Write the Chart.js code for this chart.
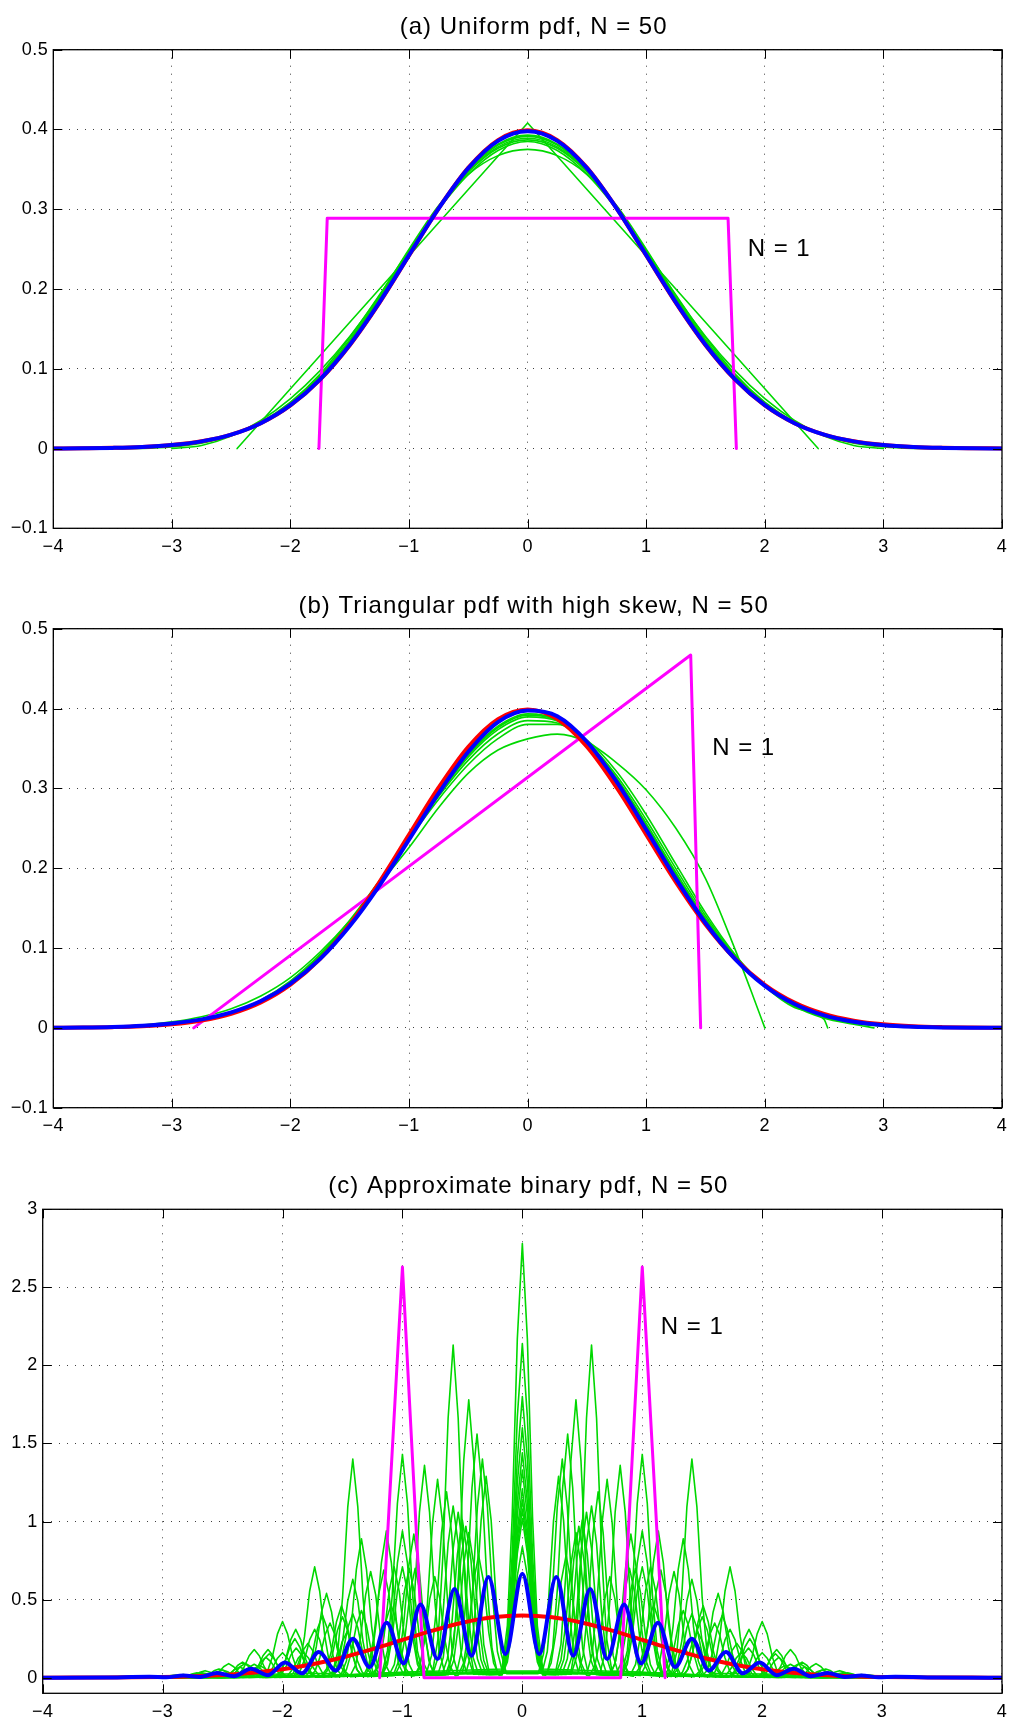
<!DOCTYPE html>
<html>
<head>
<meta charset="utf-8">
<script src="https://cdn.jsdelivr.net/npm/chart.js@4/dist/chart.umd.min.js"></script>
<style>
  html, body { margin: 0; padding: 0; background: #fff; }
  #wrap { position: relative; width: 1015px; height: 1717px; overflow: hidden; }
  canvas { position: absolute; left: 0; }
</style>
</head>
<body>
<div id="wrap">
  <canvas id="panelA" width="1015" height="580" style="top:0px"></canvas>
  <canvas id="panelB" width="1015" height="580" style="top:580px"></canvas>
  <canvas id="panelC" width="1015" height="557" style="top:1160px"></canvas>
</div>
<script>
// ---------------------------------------------------------------
// Common sample grid and the unit normal density
// ---------------------------------------------------------------
const gridX = [-4,-3.75,-3.5,-3.25,-3,-2.75,-2.5,-2.25,-2,-1.75,-1.5,-1.25,-1,-0.75,-0.5,-0.25,0,
               0.25,0.5,0.75,1,1.25,1.5,1.75,2,2.25,2.5,2.75,3,3.25,3.5,3.75,4];
const normalY = [0.0001,0.0004,0.0009,0.0020,0.0044,0.0091,0.0175,0.0317,0.0540,0.0863,0.1295,0.1826,
                 0.2420,0.3011,0.3521,0.3867,0.3989,0.3867,0.3521,0.3011,0.2420,0.1826,0.1295,0.0863,
                 0.0540,0.0317,0.0175,0.0091,0.0044,0.0020,0.0009,0.0004,0.0001];

// Axis ticks
const xTicks = [-4,-3,-2,-1,0,1,2,3,4];
const xTickLabels = ['\u22124','\u22123','\u22122','\u22121','0','1','2','3','4'];
const yTicksAB = [-0.1,0,0.1,0.2,0.3,0.4,0.5];
const yTickLabelsAB = ['\u22120.1','0','0.1','0.2','0.3','0.4','0.5'];
const yTicksC = [0,0.5,1,1.5,2,2.5,3];
const yTickLabelsC = ['0','0.5','1','1.5','2','2.5','3'];

// ---------------------------------------------------------------
// (a) Sums of uniform variables
// ---------------------------------------------------------------
const uniN1X = [-1.76,-1.69,1.69,1.76];
const uniN1Y = [0,0.2887,0.2887,0];
const uniN2X = [-2.45,0,2.45];
const uniN2Y = [0,0.408,0];
const uniN3X = [-3,-2.75,-2.5,-2.25,-2,-1.75,-1.5,-1.25,-1,-0.75,-0.5,-0.25,0,
                0.25,0.5,0.75,1,1.25,1.5,1.75,2,2.25,2.5,2.75,3];
const uniN3Y = [0,0.0039,0.0156,0.0352,0.0625,0.0977,0.1406,0.1914,0.2500,0.3047,0.3438,0.3672,0.3750,
                0.3672,0.3438,0.3047,0.2500,0.1914,0.1406,0.0977,0.0625,0.0352,0.0156,0.0039,0];
const uniN4X = [-3.46,-3.25,-3,-2.75,-2.5,-2.25,-2,-1.75,-1.5,-1.25,-1,-0.75,-0.5,-0.25,0,
                0.25,0.5,0.75,1,1.25,1.5,1.75,2,2.25,2.5,2.75,3,3.25,3.46];
const uniN4Y = [0,0.0002,0.0019,0.0067,0.0166,0.0331,0.0581,0.0933,0.1394,0.1924,0.2481,0.3001,0.3437,0.3737,0.3849,
                0.3737,0.3437,0.3001,0.2481,0.1924,0.1394,0.0933,0.0581,0.0331,0.0166,0.0067,0.0019,0.0002,0];
const uniN5Y = [0,0,0.0002,0.0010,0.0031,0.0078,0.0167,0.0323,0.0567,0.0915,0.1365,0.1898,0.2468,0.3013,0.3466,0.3765,0.3870,
                0.3765,0.3466,0.3013,0.2468,0.1898,0.1365,0.0915,0.0567,0.0323,0.0167,0.0078,0.0031,0.0010,0.0002,0,0];
const uniN6Y = [0,0.0001,0.0003,0.0011,0.0033,0.0080,0.0168,0.0322,0.0563,0.0906,0.1354,0.1886,0.2460,0.3012,0.3475,0.3782,0.3889,
                0.3782,0.3475,0.3012,0.2460,0.1886,0.1354,0.0906,0.0563,0.0322,0.0168,0.0080,0.0033,0.0011,0.0003,0.0001,0];
const uniN8Y = [0,0.0001,0.0004,0.0014,0.0036,0.0083,0.0170,0.0320,0.0557,0.0895,0.1339,0.1871,0.2450,0.3012,0.3487,0.3804,0.3914,
                0.3804,0.3487,0.3012,0.2450,0.1871,0.1339,0.0895,0.0557,0.0320,0.0170,0.0083,0.0036,0.0014,0.0004,0.0001,0];
const uniN10Y = [0,0.0002,0.0005,0.0015,0.0037,0.0084,0.0171,0.0320,0.0554,0.0889,0.1330,0.1862,0.2444,0.3012,0.3494,0.3816,0.3929,
                 0.3816,0.3494,0.3012,0.2444,0.1862,0.1330,0.0889,0.0554,0.0320,0.0171,0.0084,0.0037,0.0015,0.0005,0.0002,0];
const uniN50Y = [0.0001,0.0003,0.0008,0.0019,0.0043,0.0090,0.0174,0.0318,0.0543,0.0868,0.1302,0.1833,0.2425,0.3011,0.3515,0.3857,0.3977,
                 0.3857,0.3515,0.3011,0.2425,0.1833,0.1302,0.0868,0.0543,0.0318,0.0174,0.0090,0.0043,0.0019,0.0008,0.0003,0.0001];

// ---------------------------------------------------------------
// (b) Sums of a strongly skewed triangular variable
// ---------------------------------------------------------------
const triN1X = [-2.816,1.375,1.459];
const triN1Y = [0,0.467,0];
const triN2X = [-4,-3.75,-3.5,-3.25,-3,-2.75,-2.5,-2.25,-2,-1.75,-1.5,-1.25,-1,-0.75,-0.5,-0.25,0,
                0.25,0.5,0.75,1,1.25,1.5,1.75,1.9,2.0];
const triN2Y = [0,0.0005,0.0015,0.0035,0.0075,0.014,0.024,0.040,0.063,0.095,0.134,0.180,0.226,0.276,0.319,0.348,0.362,
                0.368,0.358,0.332,0.298,0.250,0.187,0.098,0.040,0];
const triN3X = [-4,-3.75,-3.5,-3.25,-3,-2.75,-2.5,-2.25,-2,-1.75,-1.5,-1.25,-1,-0.75,-0.5,-0.25,0,
                0.25,0.5,0.75,1,1.25,1.5,1.75,2,2.25,2.5,2.53];
const triN3Y = [0.0004,0.0007,0.0013,0.0026,0.0052,0.0102,0.0193,0.0348,0.0588,0.0923,0.1349,0.1844,0.2366,0.2865,0.3299,0.3623,0.3801,
                0.3801,0.3603,0.3211,0.2670,0.2050,0.1441,0.0917,0.0520,0.0256,0.0104,0];
const triN4X = [-4,-3.75,-3.5,-3.25,-3,-2.75,-2.5,-2.25,-2,-1.75,-1.5,-1.25,-1,-0.75,-0.5,-0.25,0,
                0.25,0.5,0.75,1,1.25,1.5,1.75,2,2.25,2.5,2.75,2.92];
const triN4Y = [0.0003,0.0006,0.0012,0.0025,0.0050,0.0099,0.0189,0.0340,0.0576,0.0908,0.1336,0.1840,0.2380,0.2902,0.3354,0.3684,0.3848,
                0.3818,0.3582,0.3161,0.2607,0.1994,0.1404,0.0903,0.0525,0.0271,0.0122,0.0046,0];
const triN6Y = [0.0003,0.0006,0.0012,0.0025,0.0051,0.0100,0.0189,0.0338,0.0568,0.0893,0.1317,0.1823,0.2376,0.2919,0.3393,0.3735,0.3895,
                0.3844,0.3579,0.3130,0.2562,0.1949,0.1373,0.0890,0.0526,0.0281,0.0135,0.0057,0.0020,0.0006,0.0001,0,0];
const triN8Y = [0.0003,0.0006,0.0012,0.0025,0.0051,0.0101,0.0189,0.0336,0.0563,0.0886,0.1308,0.1817,0.2376,0.2930,0.3414,0.3762,0.3918,
                0.3856,0.3575,0.3113,0.2537,0.1926,0.1357,0.0883,0.0527,0.0287,0.0142,0.0063,0.0025,0.0008,0.0002,0,0];
const triN10Y = [0.0002,0.0005,0.0012,0.0025,0.0051,0.0101,0.0188,0.0334,0.0560,0.0881,0.1303,0.1813,0.2377,0.2937,0.3428,0.3778,0.3933,
                 0.3863,0.3572,0.3101,0.2521,0.1911,0.1347,0.0879,0.0528,0.0291,0.0146,0.0067,0.0027,0.0010,0.0003,0.0001,0];
const triN50Y = [0.0002,0.0005,0.0012,0.0027,0.0055,0.0106,0.0194,0.0336,0.0554,0.0864,0.1276,0.1783,0.2357,0.2939,0.3458,0.3830,0.3975,
                 0.3904,0.3584,0.3083,0.2483,0.1869,0.1314,0.0862,0.0526,0.0298,0.0156,0.0076,0.0034,0.0014,0.0005,0.0001,0];

// ---------------------------------------------------------------
// (c) Sums of an approximately binary variable: peak centres and heights
// ---------------------------------------------------------------
const binN1X = [-1.19,-1.0,-0.82,0.82,1.0,1.19];
const binN1Y = [0,2.63,0,0,2.63,0];
const binN2X = [-1.414,0,1.414];
const binN2Y = [1.40,2.78,1.40];
const binN3X = [-1.732,-0.577,0.577,1.732];
const binN3Y = [0.71,2.13,2.13,0.71];
const binN4X = [-2,-1,0,1,2];
const binN4Y = [0.36,1.43,2.14,1.43,0.36];
const binN5X = [-2.236,-1.342,-0.447,0.447,1.342,2.236];
const binN5Y = [0.18,0.89,1.78,1.78,0.89,0.18];
const binN6X = [-2.449,-1.633,-0.816,0,0.816,1.633,2.449];
const binN6Y = [0.09,0.54,1.36,1.80,1.36,0.54,0.09];
const binN7X = [-2.646,-1.890,-1.134,-0.378,0.378,1.134,1.890,2.646];
const binN7Y = [0.045,0.31,0.94,1.56,1.56,0.94,0.31,0.045];
const binN8X = [-2.828,-2.121,-1.414,-0.707,0,0.707,1.414,2.121,2.828];
const binN8Y = [0.02,0.18,0.63,1.27,1.60,1.27,0.63,0.18,0.02];
const binN9X = [-3,-2.333,-1.667,-1,-0.333,0.333,1,1.667,2.333,3];
const binN9Y = [0.01,0.10,0.40,0.94,1.40,1.40,0.94,0.40,0.10,0.01];
const binN10X = [-3.162,-2.530,-1.897,-1.265,-0.632,0,0.632,1.265,1.897,2.530,3.162];
const binN10Y = [0.006,0.056,0.25,0.68,1.19,1.44,1.19,0.68,0.25,0.056,0.006];
const binN11X = [-3.317,-2.714,-2.111,-1.508,-0.905,-0.302,0.302,0.905,1.508,2.111,2.714,3.317];
const binN11Y = [0.003,0.031,0.153,0.46,0.92,1.29,1.29,0.92,0.46,0.153,0.031,0.003];
const binN12X = [-3.464,-2.887,-2.309,-1.732,-1.155,-0.577,0,0.577,1.155,1.732,2.309,2.887,3.464];
const binN12Y = [0.0014,0.017,0.092,0.31,0.69,1.10,1.33,1.10,0.69,0.31,0.092,0.017,0.0014];
const binN14X = [-3.207,-2.673,-2.138,-1.604,-1.069,-0.535,0,0.535,1.069,1.604,2.138,2.673,3.207];
const binN14Y = [0.005,0.032,0.13,0.35,0.71,1.06,1.21,1.06,0.71,0.35,0.13,0.032,0.005];
const binN16X = [-3.0,-2.5,-2.0,-1.5,-1.0,-0.5,0,0.5,1.0,1.5,2.0,2.5,3.0];
const binN16Y = [0.011,0.049,0.16,0.39,0.71,1.01,1.14,1.01,0.71,0.39,0.16,0.049,0.011];
const binN18X = [-2.828,-2.357,-1.886,-1.414,-0.943,-0.471,0,0.471,0.943,1.414,1.886,2.357,2.828];
const binN18Y = [0.018,0.068,0.19,0.41,0.70,0.97,1.08,0.97,0.70,0.41,0.19,0.068,0.018];
const binN20X = [-2.683,-2.236,-1.789,-1.342,-0.894,-0.447,0,0.447,0.894,1.342,1.789,2.236,2.683];
const binN20Y = [0.027,0.086,0.22,0.43,0.70,0.93,1.02,0.93,0.70,0.43,0.22,0.086,0.027];
const binN30X = [-2.921,-2.556,-2.191,-1.826,-1.461,-1.095,-0.730,-0.365,0,0.365,0.730,1.095,1.461,1.826,2.191,2.556,2.921];
const binN30Y = [0.011,0.032,0.077,0.162,0.295,0.467,0.647,0.785,0.838,0.785,0.647,0.467,0.295,0.162,0.077,0.032,0.011];
const binN50X = [-4,-3.5,-3.111,-2.970,-2.828,-2.687,-2.546,-2.404,-2.263,-2.121,-1.980,-1.838,-1.697,-1.556,-1.414,
                 -1.273,-1.131,-0.990,-0.849,-0.707,-0.566,-0.424,-0.283,-0.141,0,0.141,0.283,0.424,0.566,0.707,0.849,
                 0.990,1.131,1.273,1.414,1.556,1.697,1.838,1.980,2.121,2.263,2.404,2.546,2.687,2.828,2.970,3.111,3.5,4];
const binN50Y = [0,0.001,0.006,0.003,0.014,0.005,0.030,0.009,0.057,0.016,0.098,0.028,0.164,0.046,0.250,
                 0.068,0.352,0.092,0.468,0.120,0.568,0.140,0.645,0.150,0.665,0.150,0.645,0.140,0.568,0.120,0.468,
                 0.092,0.352,0.068,0.250,0.046,0.164,0.028,0.098,0.016,0.057,0.009,0.030,0.005,0.014,0.003,0.006,0.001,0];

// ---------------------------------------------------------------
// Helpers
// ---------------------------------------------------------------
const GREEN = '#00d800', MAGENTA = '#ff00ff', RED = '#ff0000', BLUE = '#0000ff';
const FONT = '"Liberation Sans", Arial, Helvetica, sans-serif';

const toPoints = (xs, ys) => xs.map((x, i) => ({ x: x, y: ys[i] }));

// Narrow peak outline used for each lattice point of the binary sums
const peakOutline = [[-0.17,0.02],[-0.125,0.12],[-0.085,0.37],[-0.042,0.78],[0,1],
                     [0.042,0.78],[0.085,0.37],[0.125,0.12],[0.17,0.02]];
function peakTrace(centres, heights) {
  const out = [{ x: -4, y: 0 }];
  centres.forEach((c, i) => {
    peakOutline.forEach(([dx, f]) => out.push({ x: c + dx, y: heights[i] * f }));
  });
  out.push({ x: 4, y: 0 });
  return out;
}

function series(data, color, width, smooth, order) {
  return {
    data: data, borderColor: color, borderWidth: width, pointRadius: 0, fill: false,
    tension: 0, cubicInterpolationMode: smooth ? 'monotone' : 'default', order: order,
    borderJoinStyle: 'round', borderCapStyle: 'round'
  };
}

// Frame, inward tick marks, panel title and the "N = 1" note
const panelDecor = {
  id: 'panelDecor',
  beforeDraw(chart) {
    chart.ctx.letterSpacing = '0.5px';
  },
  afterDatasetsDraw(chart, args, opts) {
    const { ctx, chartArea: a } = chart;
    const sx = chart.scales.x, sy = chart.scales.y;
    ctx.save();
    ctx.strokeStyle = '#000';
    ctx.lineWidth = 1.3;
    ctx.strokeRect(a.left, a.top, a.right - a.left, a.bottom - a.top);
    ctx.lineWidth = 1;
    const L = 9;
    ctx.beginPath();
    sx.ticks.forEach(t => {
      const px = Math.round(sx.getPixelForValue(t.value)) + 0.5;
      ctx.moveTo(px, a.bottom); ctx.lineTo(px, a.bottom - L);
      ctx.moveTo(px, a.top); ctx.lineTo(px, a.top + L);
    });
    sy.ticks.forEach(t => {
      const py = Math.round(sy.getPixelForValue(t.value)) + 0.5;
      ctx.moveTo(a.left, py); ctx.lineTo(a.left + L, py);
      ctx.moveTo(a.right, py); ctx.lineTo(a.right - L, py);
    });
    ctx.stroke();
    ctx.fillStyle = '#000';
    ctx.font = '24px ' + FONT;
    ctx.letterSpacing = '1px';
    ctx.textAlign = 'center';
    ctx.textBaseline = 'alphabetic';
    ctx.fillText(opts.title, (a.left + a.right) / 2 + 6, a.top - 16);
    ctx.textAlign = 'left';
    ctx.textBaseline = 'middle';
    ctx.fillText(opts.note, sx.getPixelForValue(opts.noteX), sy.getPixelForValue(opts.noteY));
    ctx.restore();
  }
};

function makePanel(canvasId, cfg) {
  const dotted = { color: 'rgba(0,0,0,0.75)', lineWidth: 1, drawTicks: false };
  return new Chart(document.getElementById(canvasId), {
    type: 'line',
    data: { datasets: cfg.datasets },
    plugins: [panelDecor],
    options: {
      responsive: false,
      animation: false,
      events: [],
      layout: { padding: { top: cfg.top, right: cfg.right, left: 0, bottom: 0 } },
      plugins: {
        legend: { display: false },
        tooltip: { enabled: false },
        panelDecor: { title: cfg.title, note: 'N = 1', noteX: cfg.noteX, noteY: cfg.noteY }
      },
      scales: {
        x: {
          type: 'linear', min: -4, max: 4,
          afterBuildTicks: s => { s.ticks = xTicks.map(v => ({ value: v })); },
          afterFit: s => { s.height = cfg.xAxisHeight; },
          ticks: {
            autoSkip: false, maxRotation: 0, padding: 8, color: '#000',
            font: { family: FONT, size: 18 },
            callback: (v, i) => xTickLabels[i]
          },
          grid: dotted,
          border: { display: false, dash: [1, 7] }
        },
        y: {
          type: 'linear', min: cfg.yMin, max: cfg.yMax,
          afterBuildTicks: s => { s.ticks = cfg.yTicks.map(v => ({ value: v })); },
          afterFit: s => { s.width = cfg.left; },
          ticks: {
            autoSkip: false, padding: 5, color: '#000',
            font: { family: FONT, size: 18 },
            callback: (v, i) => cfg.yLabels[i]
          },
          grid: dotted,
          border: { display: false, dash: [1, 7] }
        }
      }
    }
  });
}

// ---------------------------------------------------------------
// Panel (a)
// ---------------------------------------------------------------
makePanel('panelA', {
  title: '(a) Uniform pdf, N = 50',
  top: 49.7, right: 4.3, left: 53.3, xAxisHeight: 51.7,
  yMin: -0.1, yMax: 0.5, yTicks: yTicksAB, yLabels: yTickLabelsAB,
  noteX: 1.855, noteY: 0.25,
  datasets: [
    series(toPoints(gridX, uniN50Y), BLUE, 4, true, 0),
    series(toPoints(gridX, normalY), RED, 4, true, 1),
    series(toPoints(uniN1X, uniN1Y), MAGENTA, 3, false, 2),
    series(toPoints(uniN2X, uniN2Y), GREEN, 1.6, false, 3),
    series(toPoints(uniN3X, uniN3Y), GREEN, 1.6, true, 3),
    series(toPoints(uniN4X, uniN4Y), GREEN, 1.6, true, 3),
    series(toPoints(gridX, uniN5Y), GREEN, 1.6, true, 3),
    series(toPoints(gridX, uniN6Y), GREEN, 1.6, true, 3),
    series(toPoints(gridX, uniN8Y), GREEN, 1.6, true, 3),
    series(toPoints(gridX, uniN10Y), GREEN, 1.6, true, 3)
  ]
});

// ---------------------------------------------------------------
// Panel (b)
// ---------------------------------------------------------------
makePanel('panelB', {
  title: '(b) Triangular pdf with high skew, N = 50',
  top: 48.7, right: 4.3, left: 53.3, xAxisHeight: 52.3,
  yMin: -0.1, yMax: 0.5, yTicks: yTicksAB, yLabels: yTickLabelsAB,
  noteX: 1.556, noteY: 0.35,
  datasets: [
    series(toPoints(gridX, triN50Y), BLUE, 4, true, 0),
    series(toPoints(gridX, normalY), RED, 4, true, 1),
    series(toPoints(triN1X, triN1Y), MAGENTA, 3, false, 2),
    series(toPoints(triN2X, triN2Y), GREEN, 1.6, true, 3),
    series(toPoints(triN3X, triN3Y), GREEN, 1.6, true, 3),
    series(toPoints(triN4X, triN4Y), GREEN, 1.6, true, 3),
    series(toPoints(gridX, triN6Y), GREEN, 1.6, true, 3),
    series(toPoints(gridX, triN8Y), GREEN, 1.6, true, 3),
    series(toPoints(gridX, triN10Y), GREEN, 1.6, true, 3)
  ]
});

// ---------------------------------------------------------------
// Panel (c)
// ---------------------------------------------------------------
const binGreen = [
  [binN2X, binN2Y], [binN3X, binN3Y], [binN4X, binN4Y], [binN5X, binN5Y], [binN6X, binN6Y],
  [binN7X, binN7Y], [binN8X, binN8Y], [binN9X, binN9Y], [binN10X, binN10Y], [binN11X, binN11Y],
  [binN12X, binN12Y], [binN14X, binN14Y], [binN16X, binN16Y], [binN18X, binN18Y], [binN20X, binN20Y],
  [binN30X, binN30Y]
];
makePanel('panelC', {
  title: '(c) Approximate binary pdf, N = 50',
  top: 49.3, right: 4, left: 42.7, xAxisHeight: 23.7,
  yMin: -0.1, yMax: 3, yTicks: yTicksC, yLabels: yTickLabelsC,
  noteX: 1.155, noteY: 2.245,
  datasets: [
    series(toPoints(binN50X, binN50Y), BLUE, 4, true, 0),
    series(toPoints(gridX, normalY), RED, 4, true, 1),
    series(toPoints(binN1X, binN1Y), MAGENTA, 3, false, 2)
  ].concat(binGreen.map(([xs, ys]) => series(peakTrace(xs, ys), GREEN, 1.6, false, 3)))
});
</script>
</body>
</html>
